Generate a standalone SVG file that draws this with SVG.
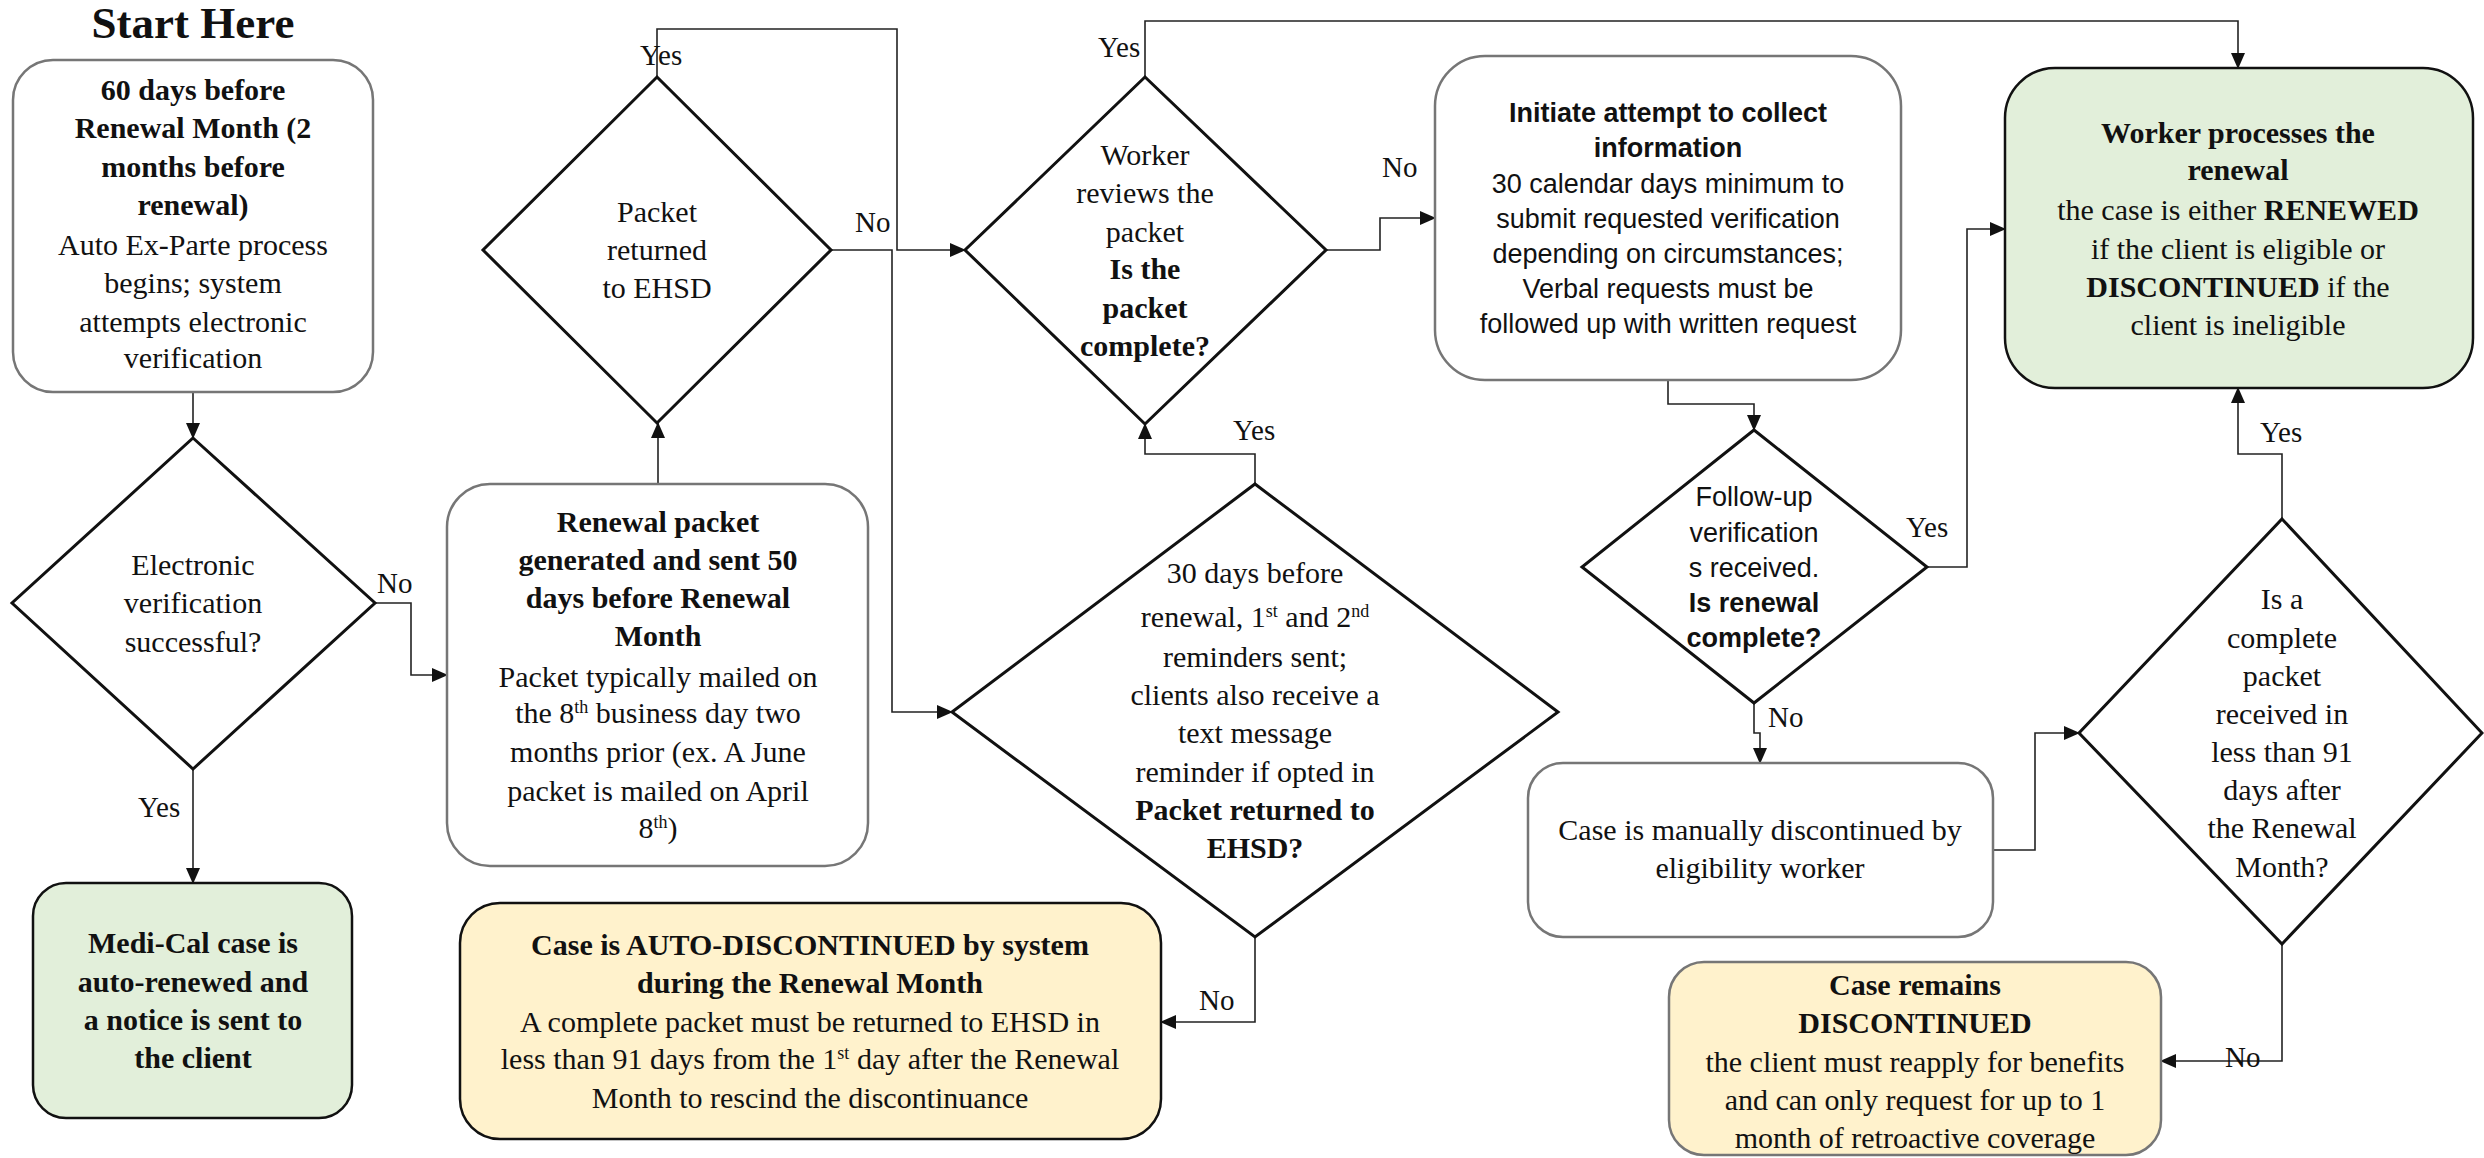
<svg xmlns="http://www.w3.org/2000/svg" width="2484" height="1158" viewBox="0 0 2484 1158">
<style>
text{font-family:"Liberation Serif","Times New Roman",serif;font-size:30px;fill:#111;text-anchor:middle}
.b{font-weight:bold}
.s{font-family:"Liberation Sans",Arial,sans-serif;font-size:27px}
.lbl{font-size:29px;text-anchor:start}
.title{font-size:45px;font-weight:bold}
.box{fill:#fff;stroke:#767676;stroke-width:2.5}
.gbox{fill:#E2EFDA;stroke:#111;stroke-width:2.5}
.ybox{fill:#FFF2CC;stroke:#111;stroke-width:2.5}
.ybox2{fill:#FFF2CC;stroke:#767676;stroke-width:2.5}
.dia{fill:#fff;stroke:#111;stroke-width:3}
.conn path{fill:none;stroke:#222;stroke-width:1.6;marker-end:url(#ah)}
.sup{font-size:18px}
</style>
<defs>
<marker id="ah" markerUnits="userSpaceOnUse" markerWidth="16" markerHeight="14" viewBox="0 0 16 14" refX="15" refY="7" orient="auto">
<path d="M0,0 L16,7 L0,14 z" fill="#111"/>
</marker>
</defs>
<rect width="2484" height="1158" fill="#fff"/>
<text class="title" x="193" y="38">Start Here</text>

<g id="connectors" class="conn">
<path d="M193,392 V438"/>
<path d="M375,603 H411 V675 H447"/>
<path d="M193,769 V883"/>
<path d="M658,484 V423"/>
<path d="M657,77 V29 H897 V250 H965"/>
<path d="M831,250 H892 V712 H952"/>
<path d="M1255,484 V454 H1145 V424"/>
<path d="M1255,937 V1022 H1161"/>
<path d="M1145,77 V21 H2238 V68"/>
<path d="M1326,250 H1380 V218 H1435"/>
<path d="M1668,380 V404 H1754 V430"/>
<path d="M1927,567 H1967 V229 H2005"/>
<path d="M1754,703 V733 H1760 V763"/>
<path d="M1993,850 H2035 V733 H2079"/>
<path d="M2282,519 V454 H2238 V388"/>
<path d="M2282,944 V1061 H2161"/>
</g>

<g id="labels">
<text class="lbl" x="377" y="593">No</text>
<text class="lbl" x="138" y="817">Yes</text>
<text class="lbl" x="640" y="65">Yes</text>
<text class="lbl" x="855" y="232">No</text>
<text class="lbl" x="1098" y="57">Yes</text>
<text class="lbl" x="1382" y="177">No</text>
<text class="lbl" x="1233" y="440">Yes</text>
<text class="lbl" x="1199" y="1010">No</text>
<text class="lbl" x="1906" y="537">Yes</text>
<text class="lbl" x="1768" y="727">No</text>
<text class="lbl" x="2260" y="442">Yes</text>
<text class="lbl" x="2225" y="1067">No</text>
</g>

<g id="n1">
<rect class="box" x="13" y="60" width="360" height="332" rx="40"/>
<text class="b" x="193" y="100">60 days before</text>
<text class="b" x="193" y="138">Renewal Month (2</text>
<text class="b" x="193" y="177">months before</text>
<text class="b" x="193" y="215">renewal)</text>
<text x="193" y="255">Auto Ex-Parte process</text>
<text x="193" y="293">begins; system</text>
<text x="193" y="332">attempts electronic</text>
<text x="193" y="368">verification</text>
</g>

<g id="d1">
<polygon class="dia" points="193,438 375,603 193,769 12,603"/>
<text x="193" y="575">Electronic</text>
<text x="193" y="613">verification</text>
<text x="193" y="652">successful?</text>
</g>

<g id="g1">
<rect class="gbox" x="33" y="883" width="319" height="235" rx="33"/>
<text class="b" x="193" y="953">Medi-Cal case is</text>
<text class="b" x="193" y="992">auto-renewed and</text>
<text class="b" x="193" y="1030">a notice is sent to</text>
<text class="b" x="193" y="1068">the client</text>
</g>

<g id="n2">
<rect class="box" x="447" y="484" width="421" height="382" rx="43"/>
<text class="b" x="658" y="532">Renewal packet</text>
<text class="b" x="658" y="570">generated and sent 50</text>
<text class="b" x="658" y="608">days before Renewal</text>
<text class="b" x="658" y="646">Month</text>
<text x="658" y="687">Packet typically mailed on</text>
<text x="658" y="723">the 8<tspan class="sup" baseline-shift="super">th</tspan> business day two</text>
<text x="658" y="762">months prior (ex. A June</text>
<text x="658" y="801">packet is mailed on April</text>
<text x="658" y="838">8<tspan class="sup" baseline-shift="super">th</tspan>)</text>
</g>

<g id="d2">
<polygon class="dia" points="657,77 831,250 657,423 483,250"/>
<text x="657" y="222">Packet</text>
<text x="657" y="260">returned</text>
<text x="657" y="298">to EHSD</text>
</g>

<g id="d3">
<polygon class="dia" points="1145,77 1326,250 1145,424 965,250"/>
<text x="1145" y="165">Worker</text>
<text x="1145" y="203">reviews the</text>
<text x="1145" y="242">packet</text>
<text class="b" x="1145" y="279">Is the</text>
<text class="b" x="1145" y="318">packet</text>
<text class="b" x="1145" y="356">complete?</text>
</g>

<g id="d4">
<polygon class="dia" points="1255,484 1558,712 1255,937 952,712"/>
<text x="1255" y="583">30 days before</text>
<text x="1255" y="627">renewal, 1<tspan class="sup" baseline-shift="super">st</tspan> and 2<tspan class="sup" baseline-shift="super">nd</tspan></text>
<text x="1255" y="667">reminders sent;</text>
<text x="1255" y="705">clients also receive a</text>
<text x="1255" y="743">text message</text>
<text x="1255" y="782">reminder if opted in</text>
<text class="b" x="1255" y="820">Packet returned to</text>
<text class="b" x="1255" y="858">EHSD?</text>
</g>

<g id="y1">
<rect class="ybox" x="460" y="903" width="701" height="236" rx="40"/>
<text class="b" x="810" y="955">Case is AUTO-DISCONTINUED by system</text>
<text class="b" x="810" y="993">during the Renewal Month</text>
<text x="810" y="1032">A complete packet must be returned to EHSD in</text>
<text x="810" y="1069">less than 91 days from the 1<tspan class="sup" baseline-shift="super">st</tspan> day after the Renewal</text>
<text x="810" y="1108">Month to rescind the discontinuance</text>
</g>

<g id="n3">
<rect class="box" x="1435" y="56" width="466" height="324" rx="50"/>
<text class="s b" x="1668" y="122">Initiate attempt to collect</text>
<text class="s b" x="1668" y="157">information</text>
<text class="s" x="1668" y="193">30 calendar days minimum to</text>
<text class="s" x="1668" y="228">submit requested verification</text>
<text class="s" x="1668" y="263">depending on circumstances;</text>
<text class="s" x="1668" y="298">Verbal requests must be</text>
<text class="s" x="1668" y="333">followed up with written request</text>
</g>

<g id="d5">
<polygon class="dia" points="1754,430 1927,567 1754,703 1582,567"/>
<text class="s" x="1754" y="506">Follow-up</text>
<text class="s" x="1754" y="542">verification</text>
<text class="s" x="1754" y="577">s received.</text>
<text class="s b" x="1754" y="612">Is renewal</text>
<text class="s b" x="1754" y="647">complete?</text>
</g>

<g id="n4">
<rect class="box" x="1528" y="763" width="465" height="174" rx="35"/>
<text x="1760" y="840">Case is manually discontinued by</text>
<text x="1760" y="878">eligibility worker</text>
</g>

<g id="y2">
<rect class="ybox2" x="1669" y="962" width="492" height="193" rx="35"/>
<text class="b" x="1915" y="995">Case remains</text>
<text class="b" x="1915" y="1033">DISCONTINUED</text>
<text x="1915" y="1072">the client must reapply for benefits</text>
<text x="1915" y="1110">and can only request for up to 1</text>
<text x="1915" y="1148">month of retroactive coverage</text>
</g>

<g id="g2">
<rect class="gbox" x="2005" y="68" width="468" height="320" rx="50"/>
<text class="b" x="2238" y="143">Worker processes the</text>
<text class="b" x="2238" y="180">renewal</text>
<text x="2238" y="220">the case is either <tspan class="b">RENEWED</tspan></text>
<text x="2238" y="259">if the client is eligible or</text>
<text x="2238" y="297"><tspan class="b">DISCONTINUED</tspan> if the</text>
<text x="2238" y="335">client is ineligible</text>
</g>

<g id="d6">
<polygon class="dia" points="2282,519 2482,733 2282,944 2079,733"/>
<text x="2282" y="609">Is a</text>
<text x="2282" y="648">complete</text>
<text x="2282" y="686">packet</text>
<text x="2282" y="724">received in</text>
<text x="2282" y="762">less than 91</text>
<text x="2282" y="800">days after</text>
<text x="2282" y="838">the Renewal</text>
<text x="2282" y="877">Month?</text>
</g>
</svg>
